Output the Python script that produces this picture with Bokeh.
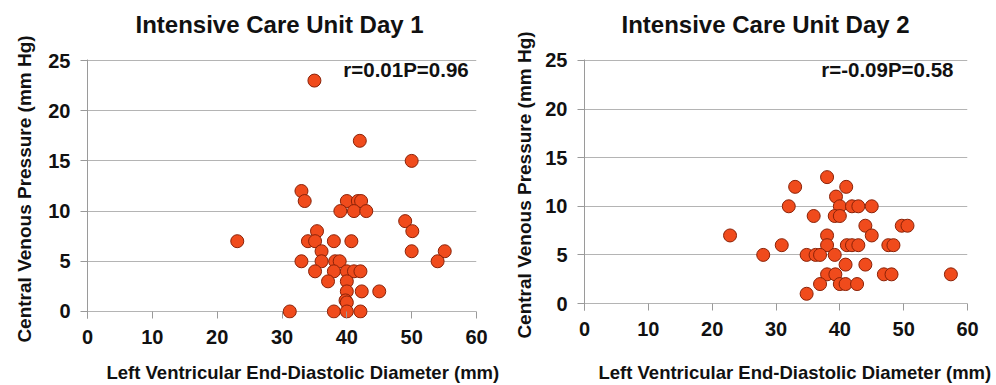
from bokeh.plotting import figure
from bokeh.layouts import row
from bokeh.models import FixedTicker, Label, Title, Range1d, ColumnDataSource
from bokeh.embed import file_html
from bokeh.resources import INLINE

# ---- data ----
titles = ["Intensive Care Unit Day 1", "Intensive Care Unit Day 2"]
stats_text = ["r=0.01P=0.96", "r=-0.09P=0.58"]
x_label = "Left Ventricular End-Diastolic Diameter (mm)"
y_label = "Central Venous Pressure (mm Hg)"
x_ticks = [0, 10, 20, 30, 40, 50, 60]
y_ticks = [0, 5, 10, 15, 20, 25]

day1_lvedd = [35, 42, 50, 33, 33.5, 40, 41.7, 42.2, 39, 41.1, 43, 49, 50.1, 35.4,
              23.1, 34, 35.1, 38, 40.7, 36.1, 50, 55.1, 33, 36.1, 38.2, 38.9, 54,
              35.1, 38, 40, 41.1, 42.1, 37.1, 40, 40, 42.3, 45, 39.8, 40,
              31.2, 38, 40, 42.1]
day1_cvp = [23, 17, 15, 12, 11, 11, 11, 11, 10, 10, 10, 9, 8, 8,
            7, 7, 7, 7, 7, 6, 6, 6, 5, 5, 5, 5, 5,
            4, 4, 4, 4, 4, 3, 3, 2, 2, 2, 1.1, 0.9,
            0, 0, 0, 0]

day2_lvedd = [38, 33, 41, 39.4, 32, 40, 41.9, 42.9, 45, 35.9, 39.2, 40, 44, 49.7,
              50.6, 22.8, 38, 45, 30.9, 38, 41.1, 41.9, 42.9, 47.6, 48.4, 28, 34.8,
              36.2, 36.9, 39.2, 40.9, 44, 38, 39.3, 46.9, 48.1, 57.4, 36.9, 40,
              40.9, 42.7, 34.8]
day2_cvp = [13, 12, 12, 11, 10, 10, 10, 10, 10, 9, 9, 9, 8, 8,
            8, 7, 7, 7, 6, 6, 6, 6, 6, 6, 6, 5, 5,
            5, 5, 5, 4, 4, 3, 3, 3, 3, 3, 2, 2,
            2, 2, 1]

FONT = "Liberation Sans"
INK = "#111111"


def spacer(gap):
    # an empty, tiny title used only to push the next panel outward
    return Title(text=" ", text_font_size="1px", standoff=gap)


def make_panel(xs, ys, title, stat, width, border_left, border_right,
               border_bottom, y_start, title_offset, title_gap, ylab_standoff,
               xlab_offset, xlab_gap, stat_x, stat_y):
    p = figure(width=width, height=385, output_backend="svg", toolbar_location=None,
               title=None,
               x_range=Range1d(0, 60), y_range=Range1d(y_start, 25.1),
               min_border_left=border_left, min_border_right=border_right,
               min_border_top=59, min_border_bottom=border_bottom)
    p.frame_align = False
    p.outline_line_color = None
    p.background_fill_color = "white"
    p.border_fill_color = "white"

    # title (with a spacer between it and the frame)
    p.add_layout(spacer(title_gap), "above")
    p.add_layout(Title(text=title, align="left", offset=title_offset, standoff=0,
                       vertical_align="bottom", text_font=FONT,
                       text_font_size="24px", text_font_style="bold",
                       text_color=INK), "above")

    # grids
    p.xgrid.visible = False
    p.ygrid.ticker = FixedTicker(ticks=y_ticks)
    p.ygrid.grid_line_color = "#b4b4b4"
    p.ygrid.grid_line_width = 1

    # x axis (ticks hang from the y=0 line down to the frame edge)
    xa = p.xaxis[0]
    xa.ticker = FixedTicker(ticks=x_ticks)
    xa.axis_line_color = None
    xa.major_tick_in = 7
    xa.major_tick_out = 0
    xa.major_tick_line_color = "#9a9a9a"
    xa.minor_tick_line_color = None
    xa.major_label_text_font = FONT
    xa.major_label_text_font_size = "20px"
    xa.major_label_text_font_style = "bold"
    xa.major_label_text_color = INK
    xa.major_label_standoff = 11

    # y axis
    ya = p.yaxis[0]
    ya.ticker = FixedTicker(ticks=y_ticks)
    ya.axis_line_color = "#9a9a9a"
    ya.major_tick_in = 0
    ya.major_tick_out = 7
    ya.major_tick_line_color = "#9a9a9a"
    ya.minor_tick_line_color = None
    ya.major_label_text_font = FONT
    ya.major_label_text_font_size = "20px"
    ya.major_label_text_font_style = "bold"
    ya.major_label_text_color = INK
    ya.major_label_standoff = 10
    ya.axis_label = y_label
    ya.axis_label_text_font = FONT
    ya.axis_label_text_font_size = "19px"
    ya.axis_label_text_font_style = "bold"
    ya.axis_label_text_color = INK
    ya.axis_label_standoff = ylab_standoff

    # x axis label: spacer, then a left-offset title below the axis
    p.add_layout(spacer(xlab_gap), "below")
    p.add_layout(Title(text=x_label, align="left", offset=xlab_offset, standoff=0,
                       vertical_align="top", text_font=FONT,
                       text_font_size="18.5px", text_font_style="bold",
                       text_color=INK), "below")

    src = ColumnDataSource(data=dict(x=xs, y=ys))
    p.scatter("x", "y", source=src, size=13, fill_color="#f04b1c",
              line_color="#8a2208", line_width=1)

    p.add_layout(Label(x=stat_x, y=stat_y, text=stat, text_align="right",
                       text_baseline="middle", text_font=FONT,
                       text_font_size="20.5px", text_font_style="bold",
                       text_color=INK))
    return p


p1 = make_panel(day1_lvedd, day1_cvp, titles[0], stats_text[0], width=500,
                border_left=87, border_right=24, border_bottom=67, y_start=-0.7,
                title_offset=48, title_gap=19, ylab_standoff=10,
                xlab_offset=19, xlab_gap=12, stat_x=58.8, stat_y=24.1)
p2 = make_panel(day2_lvedd, day2_cvp, titles[1], stats_text[1], width=496,
                border_left=84, border_right=29, border_bottom=75, y_start=-0.72,
                title_offset=37, title_gap=19, ylab_standoff=7,
                xlab_offset=14, xlab_gap=20, stat_x=57.8, stat_y=24.1)

layout = row(p1, p2)
open("out.html", "w").write(file_html(layout, INLINE))
